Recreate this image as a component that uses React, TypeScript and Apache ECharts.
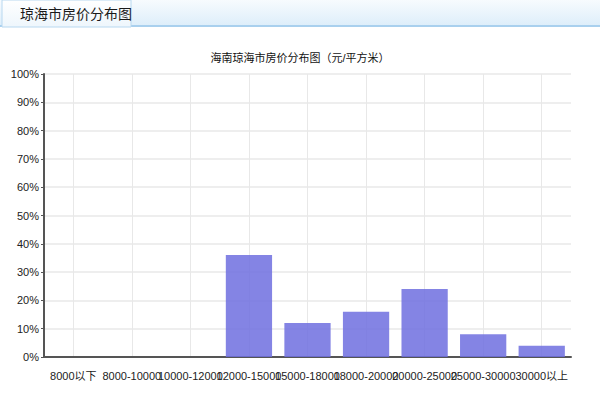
import React, { useEffect, useRef } from 'react';
import * as echarts from 'echarts';

const categories = [
  '8000以下',
  '8000-10000',
  '10000-12000',
  '12000-15000',
  '15000-18000',
  '18000-20000',
  '20000-25000',
  '25000-30000',
  '30000以上',
];
const shares = [0, 0, 0, 36, 12, 16, 24, 8, 4];
const yTicks = [0, 10, 20, 30, 40, 50, 60, 70, 80, 90, 100];

const tabTitle = '琼海市房价分布图';
const chartTitle = '海南琼海市房价分布图（元/平方米）';

const App: React.FC = () => {
  const chartRef = useRef<HTMLDivElement | null>(null);

  useEffect(() => {
    if (!chartRef.current) return;
    const myChart = echarts.init(chartRef.current, null, { renderer: 'svg' });

    const option = {
      animation: false,
      backgroundColor: '#fff',
      textStyle: { fontFamily: 'Liberation Sans, "Noto Sans CJK SC", sans-serif' },
      title: {
        text: chartTitle,
        left: 'center',
        top: 47,
        textStyle: { fontSize: 11, fontWeight: 'normal', color: '#111' },
      },
      graphic: [
        // header band
        {
          type: 'rect',
          shape: { x: 0, y: 0, width: 600, height: 27 },
          style: {
            fill: new echarts.graphic.LinearGradient(0, 0, 0, 1, [
              { offset: 0, color: '#f7fbfe' },
              { offset: 1, color: '#dcedfa' },
            ]),
          },
          silent: true,
        },
        {
          type: 'rect',
          shape: { x: 0, y: 25, width: 600, height: 2 },
          style: { fill: '#a9d0ee' },
          silent: true,
        },
        // tab
        {
          type: 'rect',
          shape: { x: 2, y: 0, width: 129, height: 27 },
          style: {
            fill: new echarts.graphic.LinearGradient(0, 0, 0, 1, [
              { offset: 0, color: '#ffffff' },
              { offset: 1, color: '#eef6fc' },
            ]),
            stroke: '#b8d8f0',
            lineWidth: 1,
          },
          silent: true,
        },
        {
          type: 'text',
          x: 20,
          y: 13,
          style: {
            text: tabTitle,
            fontSize: 14,
            fill: '#1a1a1a',
            verticalAlign: 'middle',
            fontFamily: '"Noto Sans CJK SC", sans-serif',
          },
          silent: true,
        },
      ],
      grid: { left: 44, right: 29, top: 74, bottom: 43 },
      xAxis: {
        type: 'category',
        data: categories,
        axisLine: { lineStyle: { color: '#555', width: 2 } },
        axisTick: { alignWithLabel: true, length: 5, lineStyle: { color: '#555' } },
        axisLabel: { interval: 0, fontSize: 11, color: '#222', margin: 13 },
        splitLine: { show: true, alignWithLabel: true, lineStyle: { color: '#e8e8e8', width: 1 } },
      },
      yAxis: {
        type: 'value',
        min: yTicks[0],
        max: yTicks[yTicks.length - 1],
        interval: 10,
        axisLine: { show: true, lineStyle: { color: '#555', width: 2 } },
        axisTick: { show: true, length: 3, lineStyle: { color: '#555' } },
        axisLabel: { formatter: '{value}%', fontSize: 11, color: '#222', margin: 5 },
        splitLine: { lineStyle: { color: '#e8e8e8', width: 1.5 } },
      },
      series: [
        {
          type: 'bar',
          data: shares,
          barCategoryGap: '21%',
          itemStyle: { color: 'rgba(112,112,224,0.86)', borderWidth: 0 },
          emphasis: { disabled: true },
        },
      ],
    };

    myChart.setOption(option);
    return () => {
      myChart.dispose();
    };
  }, []);

  return (
    <div style={{ position: 'fixed', left: 0, top: 0, width: 600, height: 400 }}>
      <div ref={chartRef} style={{ width: '100%', height: '100%' }}></div>
    </div>
  );
};

export default App;
